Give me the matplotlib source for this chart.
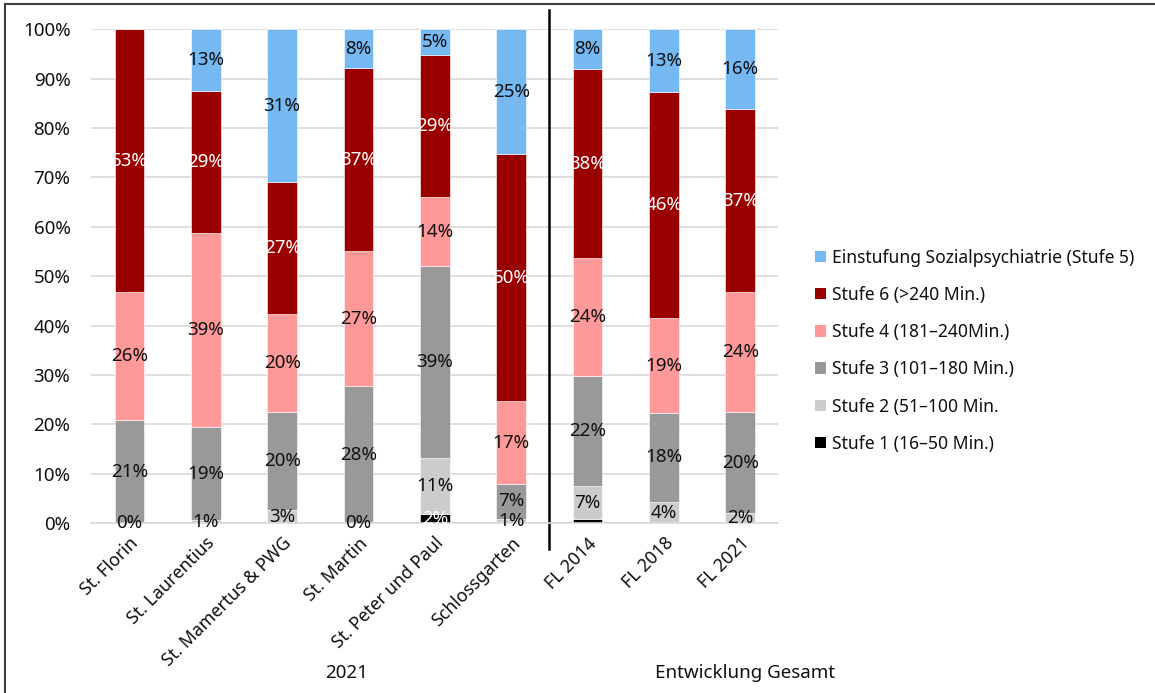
import matplotlib
matplotlib.use("Agg")
import matplotlib.pyplot as plt
from matplotlib.lines import Line2D
from matplotlib.patches import Patch
import numpy as np

plt.rcParams['font.family'] = ['Noto Sans', 'DejaVu Sans']

categories = ["St. Florin", "St. Laurentius", "St. Mamertus & PWG", "St. Martin",
              "St. Peter und Paul", "Schlossgarten", "FL 2014", "FL 2018", "FL 2021"]

# shares in percent, stacked bottom to top
stufe1 = [0.0, 0.0, 0.0, 0.0, 1.8, 0.0, 0.8, 0.0, 0.0]
stufe2 = [0.0, 0.6, 2.6, 0.0, 11.4, 0.9, 6.7, 4.3, 2.0]
stufe3 = [20.8, 18.8, 19.9, 27.7, 38.8, 7.0, 22.3, 18.0, 20.5]
stufe4 = [26.0, 39.3, 19.8, 27.4, 14.0, 16.8, 23.8, 19.2, 24.3]
stufe6 = [53.2, 28.7, 26.7, 37.0, 28.7, 50.0, 38.4, 45.7, 37.0]
stufe5 = [0.0, 12.6, 31.0, 7.9, 5.3, 25.3, 8.0, 12.8, 16.2]

group_labels = ["2021", "Entwicklung Gesamt"]

series = [
    ("Stufe 1 (16–50 Min.)", stufe1, "#000000", "white"),
    ("Stufe 2 (51–100 Min.", stufe2, "#CCCCCC", "#111111"),
    ("Stufe 3 (101–180 Min.)", stufe3, "#999999", "#111111"),
    ("Stufe 4 (181–240Min.)", stufe4, "#FF9999", "#111111"),
    ("Stufe 6 (>240 Min.)", stufe6, "#9A0000", "white"),
    ("Einstufung Sozialpsychiatrie (Stufe 5)", stufe5, "#75B8F2", "#111111"),
]

FS = 13.5

fig = plt.figure(figsize=(11.55, 6.93), dpi=100)
ax = fig.add_axes([0.079, 0.245, 0.595, 0.713])

x = np.arange(len(categories))
width = 0.39
bottom = np.zeros(len(categories))
handles = []
for name, vals, color, tcolor in series:
    vals = np.array(vals)
    ax.bar(x, vals, width, bottom=bottom, color=color, edgecolor="white",
           linewidth=0.4, zorder=2)
    for xi, v, b in zip(x, vals, bottom):
        if name.startswith("Stufe 2"):
            show = True
        elif name.startswith("Stufe 1"):
            show = v >= 1.5
        else:
            show = v > 0
        if show:
            ax.text(xi, b + v / 2, f"{round(v):.0f}%", ha="center", va="center",
                    color=tcolor, fontsize=FS, zorder=3)
    bottom += vals
    handles.append(Patch(facecolor=color, edgecolor="none", label=name))

ax.set_xlim(-0.5, len(categories) - 0.5)
ax.set_ylim(0, 100)
ax.set_yticks(np.arange(0, 101, 10))
ax.set_yticklabels([f"{t}%" for t in range(0, 101, 10)], fontsize=FS, color="#111111")
ax.yaxis.grid(True, color="#D9D9D9", linewidth=1.2, zorder=0)
ax.set_axisbelow(True)
for s in ["top", "right", "left"]:
    ax.spines[s].set_visible(False)
ax.spines["bottom"].set_color("#D9D9D9")
ax.spines["bottom"].set_linewidth(1.2)
ax.tick_params(axis="both", length=0)
ax.tick_params(axis="y", pad=15)
ax.set_xticks(x)
ax.set_xticklabels(categories, rotation=45, ha="right", va="top",
                   rotation_mode="anchor", fontsize=12.8, color="#111111")
ax.tick_params(axis="x", pad=8)

# separator between site groups and overall development
ax.add_line(Line2D([5.5, 5.5], [1.038, -0.052], transform=ax.get_xaxis_transform(),
                   color="black", linewidth=1.8, clip_on=False))

trans = ax.get_xaxis_transform()
ax.text(2.85, -0.303, group_labels[0], transform=trans, ha="center", va="center",
        fontsize=FS, color="#111111")
ax.text(8.06, -0.303, group_labels[1], transform=trans, ha="center", va="center",
        fontsize=FS, color="#111111")

leg = fig.legend(handles=handles[::-1], loc="center left",
                 bbox_to_anchor=(0.692, 0.494), frameon=False, fontsize=12.6,
                 handlelength=0.65, handleheight=0.65, handletextpad=0.3,
                 labelspacing=1.1)
for t in leg.get_texts():
    t.set_color("#111111")

# outer frame
fig.add_artist(Line2D([5 / 1155, 5 / 1155], [0, 1 - 4 / 693], transform=fig.transFigure,
                      color="#404040", linewidth=1.5))
fig.add_artist(Line2D([5 / 1155, 1], [1 - 4 / 693, 1 - 4 / 693], transform=fig.transFigure,
                      color="#404040", linewidth=1.5))

fig.savefig("out.png", dpi=100, facecolor="white")
